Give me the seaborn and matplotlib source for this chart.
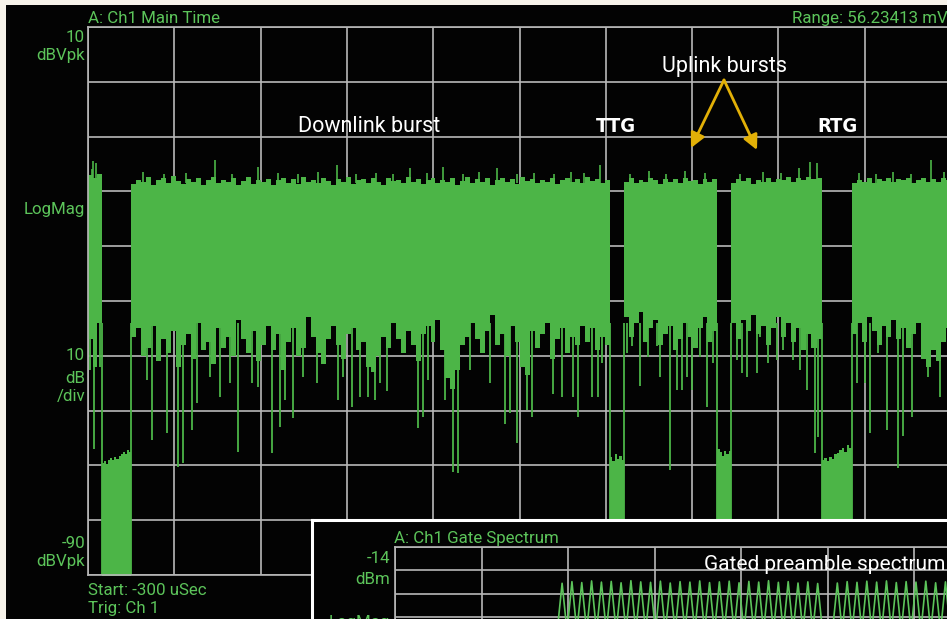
import matplotlib

matplotlib.use("Agg")
import matplotlib.pyplot as plt
import numpy as np
import pandas as pd
import seaborn as sns
from matplotlib import font_manager

W, H = 947, 619

CREAM = "#f7f3ea"
SCREEN = "#030303"
GREEN = "#4cb547"
TEXT_GREEN = "#5cc45a"
GRID = "#b8b8b8"
ARROW = "#e2b007"

# burst layout of the frame (usec)
BURST_START = [-300, 0, 3425, 4170, 5010]
BURST_END = [-205, 3330, 4075, 4800, 5700]

# top / bottom edge of each burst (dBVpk), read left to right
LEFT_TOP = [-17.0, -17.5, -16.8]
LEFT_BOT = [-47.0, -52.0, -44.0]
DL_TOP = [
    -18.6, -17.9, -18.2, -17.4, -18.8, -18.0, -17.6, -18.4, -17.2, -18.1, -18.7, -17.8, -18.3, -17.5, -18.9, -18.0,
    -17.3, -18.5, -17.9, -18.2, -17.6, -18.8, -18.1, -17.4, -18.6, -17.9, -18.3, -17.7, -18.9, -18.0, -17.5, -18.4,
    -17.8, -18.6, -17.3, -18.2, -17.9, -18.5, -17.6, -18.1, -18.8, -17.7, -18.3, -17.4, -18.6, -18.0, -17.8, -18.4,
    -17.5, -18.2, -18.9, -17.6, -18.1, -17.9, -18.5, -17.3, -18.3, -17.8, -18.7, -18.0, -17.5, -18.4, -17.9, -18.2,
    -17.6, -18.8, -18.1, -17.4, -18.5, -17.8, -18.3, -17.6, -18.9, -18.0, -17.5, -18.3, -17.8, -18.6, -17.4, -18.1,
    -17.7, -18.4, -17.9, -18.2, -17.5, -18.7, -18.0, -17.6, -18.3, -17.8, -18.5, -17.3, -18.1, -17.7, -18.4, -17.9,
]
DL_BOT = [
    -46.5, -45.0, -50.0, -48.5, -44.5, -51.0, -47.0, -49.5, -45.5, -52.0, -48.0, -46.0, -50.5, -44.0, -49.0, -47.5,
    -51.5, -45.0, -48.5, -46.5, -50.0, -43.5, -47.0, -49.5, -45.5, -51.0, -48.0, -44.5, -49.0, -46.0, -52.5, -47.5,
    -45.0, -50.0, -48.5, -43.0, -46.5, -49.5, -51.5, -47.0, -44.5, -48.0, -50.5, -46.0, -45.0, -49.0, -47.5, -52.0,
    -53.0, -50.0, -46.5, -48.5, -44.0, -47.0, -49.5, -45.5, -48.0, -51.0, -46.0, -44.5, -47.5, -43.5, -49.0, -54.0,
    -56.0, -52.5, -48.0, -46.5, -44.0, -47.0, -49.5, -45.5, -42.5, -48.0, -46.0, -50.0, -44.5, -47.5, -52.0, -53.5,
    -45.5, -48.5, -46.0, -44.0, -50.5, -47.0, -45.0, -49.5, -46.5, -48.0, -44.5, -47.5, -45.0, -49.0, -46.5, -48.0,
]
UL1_TOP = [-18.2, -17.6, -18.5, -17.9, -18.3, -17.5, -18.0, -18.6, -17.7, -18.2, -17.8, -18.4, -17.5, -18.1, -17.9,
           -18.6, -17.7, -18.3, -17.8]
UL1_BOT = [-43.0, -46.5, -44.0, -42.0, -47.5, -45.0, -43.5, -48.0, -46.0, -44.5, -49.0, -47.0, -44.0, -46.5, -48.5,
           -45.0, -43.0, -47.5, -45.5]
UL2_TOP = [-18.4, -17.8, -18.1, -17.5, -18.6, -17.9, -18.2, -17.6, -18.3, -17.7, -18.0, -17.4, -18.2, -17.6, -17.9,
           -17.3, -17.8, -17.5]
UL2_BOT = [-44.0, -47.0, -43.5, -45.5, -42.5, -46.0, -44.5, -48.0, -45.0, -43.0, -46.5, -44.0, -47.5, -45.0, -49.0,
           -46.0, -48.5, -47.0]
NX_TOP = [-18.5, -17.9, -18.2, -17.6, -18.4, -17.8, -18.1, -17.5, -18.3, -17.7, -18.0, -17.6, -18.4, -17.9, -17.5,
          -18.2, -17.8, -18.3, -17.6, -18.0]
NX_BOT = [-46.0, -44.0, -47.5, -43.0, -45.5, -48.0, -44.5, -46.5, -43.5, -47.0, -45.0, -48.5, -46.0, -44.0, -50.5,
          -52.0, -49.0, -51.0, -47.5, -45.0]

# noise floor seen in the gaps (TTG / RTG), top edge
GAP0_TOP = [-69.6, -69.2, -69.8, -69.0, -68.7, -69.1, -68.5, -68.8, -68.2, -68.0, -67.5, -67.9, -67.2, -67.6]
GAP1_TOP = [-68.5, -69.2, -68.0, -68.8, -68.3, -69.0]
GAP2_TOP = [-67.0, -67.6, -68.2, -67.4, -68.0, -67.3]
GAP3_TOP = [-69.0, -68.6, -69.2, -68.4, -68.8, -68.0, -67.8, -67.2, -66.8, -67.5, -66.3, -66.9]

# downward spikes (time usec, lowest level dB)
SPIKE_T = [-286, -258, -217,
           108, 143, 247, 328, 363, 421, 456, 548, 618, 687, 745, 838, 884, 977, 1035, 1070, 1127, 1197, 1290,
           1440, 1475, 1533, 1591, 1649, 1695, 1730, 1777, 1997, 2031, 2066, 2182, 2240, 2275, 2356, 2495, 2599,
           2634, 2680, 2750, 2785, 2935, 2993, 3074, 3109, 3202, 3248, 3271,
           3445, 3480, 3538, 3596, 3654, 3677, 3746, 3793, 3828, 3862, 3897, 3955, 4001, 4048,
           4210, 4245, 4280, 4349, 4372, 4430, 4488, 4534, 4604, 4650, 4697, 4754, 4777,
           5044, 5102, 5137, 5194, 5253, 5334, 5369, 5427, 5543, 5624]
SPIKE_DB = [-52.6, -67.0, -52.0,
            -54.4, -65.4, -64.1, -70.3, -69.6, -63.5, -58.6, -53.9, -57.5, -55.0, -67.6, -55.0, -55.7, -67.7,
            -63.0, -58.0, -61.4, -53.9, -55.0, -58.0, -53.9, -59.3, -57.5, -57.5, -58.0, -55.0, -56.4, -63.2,
            -61.1, -54.4, -58.0, -71.2, -71.4, -52.5, -55.0, -62.4, -60.5, -65.9, -59.9, -61.1, -57.0, -57.5,
            -57.5, -61.1, -57.5, -57.5, -51.4,
            -49.5, -48.3, -55.6, -50.2, -48.3, -53.8, -70.8, -56.2, -56.2, -53.8, -56.2, -50.2, -59.3, -51.4,
            -50.8, -53.2, -53.8, -53.2, -46.5, -51.4, -50.8, -48.9, -50.8, -52.6, -56.2, -67.8, -64.8,
            -55.0, -55.0, -64.1, -49.5, -63.5, -70.5, -64.6, -61.2, -53.9, -57.5]

# upward spikes above the burst tops
UP_T = [-275, -262, -245,
        84, 230, 380, 583, 700, 884, 1020, 1160, 1300, 1429, 1560, 1700, 1820, 1939, 2060, 2170, 2310, 2420,
        2542, 2680, 2800, 2940, 3060, 3150, 3260,
        3470, 3600, 3720, 3850, 3990,
        4230, 4390, 4520, 4640, 4720, 4770,
        5060, 5180, 5300, 5420, 5560, 5650]
UP_DB = [-16.0, -14.4, -14.8,
         -16.4, -16.8, -16.6, -14.3, -16.9, -15.5, -16.7, -16.9, -16.5, -15.2, -16.8, -16.6, -16.9, -15.8,
         -16.7, -15.5, -16.8, -16.5, -15.8, -16.9, -16.6, -16.8, -16.4, -16.7, -15.2,
         -16.9, -16.3, -16.8, -16.2, -16.6,
         -16.8, -16.4, -16.7, -15.8, -14.6, -14.9,
         -16.6, -16.8, -16.4, -16.9, -14.3, -16.5]

# gated preamble spectrum: every third subcarrier, DC null in the middle
SPEC_LEFT_K = list(range(-81, 0, 3))
SPEC_LEFT_DB = [-29.5, -28.8, -29.2, -28.5, -29.0, -28.7, -29.3, -28.4, -28.9, -29.1, -28.6, -29.4, -28.8, -29.0,
                -28.5, -29.2, -28.9, -28.6, -29.3, -28.7, -29.0, -28.4, -29.1, -28.8, -29.4, -28.9, -29.6]
SPEC_RIGHT_K = list(range(3, 43, 3))
SPEC_RIGHT_DB = [-29.4, -28.8, -29.1, -28.6, -29.0, -28.5, -29.2, -28.8, -29.0, -28.6, -29.3, -28.9, -29.1, -28.7]
SPEC_TROUGH = -50.0


def px(x, y):
    return x / W, 1 - y / H


def fill_steps(ax, start, end, lower, upper):
    edges = np.linspace(start, end, len(upper) + 1)
    lo = np.append(lower, lower[-1])
    hi = np.append(upper, upper[-1])
    ax.fill_between(edges, lo, hi, step="post", color=GREEN, lw=0, zorder=2)


def style_grid(ax, xticks, yticks):
    ax.set_xticks(xticks)
    ax.set_yticks(yticks)
    ax.set_xticklabels([])
    ax.set_yticklabels([])
    ax.tick_params(length=0)
    ax.grid(True, color=GRID, lw=1.2)
    ax.set_axisbelow(True)
    for s in ax.spines.values():
        s.set_color(GRID)
        s.set_linewidth(1.2)


def bold_narrow_font():
    fonts = font_manager.fontManager.ttflist
    names = {f.name for f in fonts}
    if "Liberation Sans Narrow" in names:
        return dict(family=["Liberation Sans Narrow", "DejaVu Sans"], fontsize=17)
    for f in fonts:
        if f.name == "DejaVu Sans" and "ondensed" in f.fname and "Bold" in f.fname:
            return dict(family=["DejaVu Sans"], fontstretch="condensed", fontsize=14.5)
    return dict(family=["Roboto", "DejaVu Sans"], fontsize=14)


sns.set_theme(style="dark", rc={"axes.facecolor": SCREEN})
plt.rcParams["font.family"] = ["Roboto", "DejaVu Sans"]

fig = plt.figure(figsize=(W / 100, H / 100), dpi=100)
fig.patch.set_facecolor(CREAM)

screen = fig.add_axes([6 / W, 0, 1 - 6 / W, 1 - 5 / H], zorder=0)
screen.set_facecolor(SCREEN)
screen.set_axis_off()
screen.add_patch(plt.Rectangle((0, 0), 1, 1, transform=screen.transAxes, color=SCREEN))

# main time trace
ax = fig.add_axes([88 / W, 44 / H, 863 / W, 548 / H], zorder=1)
ax.set_facecolor(SCREEN)
ax.set_xlim(-300, 5700)
ax.set_ylim(-90, 10)
style_grid(ax, np.linspace(-300, 5700, 11), np.arange(-90, 11, 10))

tops = [LEFT_TOP, DL_TOP, UL1_TOP, UL2_TOP, NX_TOP]
bots = [LEFT_BOT, DL_BOT, UL1_BOT, UL2_BOT, NX_BOT]
for s, e, top, bot in zip(BURST_START, BURST_END, tops, bots):
    fill_steps(ax, s, e, bot, top)

gaps = [GAP0_TOP, GAP1_TOP, GAP2_TOP, GAP3_TOP]
for e, s, top in zip(BURST_END[:-1], BURST_START[1:], gaps):
    fill_steps(ax, e, s, [-100] * len(top), top)

edges = BURST_END[:-1] + BURST_START[1:]
ax.vlines(edges, -100, -44, color=GREEN, lw=1.3, zorder=2)
ax.vlines(SPIKE_T, SPIKE_DB, -44, color=GREEN, lw=1.3, zorder=2)
ax.vlines(UP_T, -18.5, UP_DB, color=GREEN, lw=1.2, zorder=2)

# inset frame and gated spectrum
frame = fig.add_axes([312 / W, -0.05, 0.7, 1 - 520 / H + 0.05], zorder=2)
frame.set_facecolor(SCREEN)
frame.set_xticks([])
frame.set_yticks([])
for s in frame.spines.values():
    s.set_color("white")
    s.set_linewidth(2.2)

sp = fig.add_axes([395 / W, 1 - 781 / H, 865 / W, 234 / H], zorder=3)
sp.set_facecolor(SCREEN)
sp.set_xlim(-132, 132)
sp.set_ylim(-114, -14)
style_grid(sp, np.linspace(-132, 132, 11), np.arange(-114, -13, 10))

rows = []
for side, ks, dbs in (("L", SPEC_LEFT_K, SPEC_LEFT_DB), ("R", SPEC_RIGHT_K, SPEC_RIGHT_DB)):
    for k, db in zip(ks, dbs):
        rows += [(side, k - 1.5, SPEC_TROUGH), (side, k, db), (side, k + 1.5, SPEC_TROUGH)]
spec = pd.DataFrame(rows, columns=["side", "k", "level"])
for side, part in spec.groupby("side"):
    sns.lineplot(data=part, x="k", y="level", sort=False, estimator=None, color=TEXT_GREEN, lw=1.2, ax=sp)
sp.set_xlabel("")
sp.set_ylabel("")

# instrument labels
lab = dict(color=TEXT_GREEN, fontsize=12.2, va="baseline")
fig.text(*px(88, 23), "A: Ch1 Main Time", ha="left", **lab)
fig.text(*px(792, 23), "Range: 56.23413 mV", ha="left", **lab)
for text, y in (("10", 42), ("dBVpk", 60), ("LogMag", 214), ("10", 360), ("dB", 383), ("/div", 401),
                ("-90", 548), ("dBVpk", 566)):
    fig.text(*px(85, y), text, ha="right", **lab)
fig.text(*px(88, 595), "Start: -300 uSec", ha="left", **lab)
fig.text(*px(88, 613), "Trig: Ch 1", ha="left", **lab)
fig.text(*px(394, 543), "A: Ch1 Gate Spectrum", ha="left", zorder=5, **lab)
fig.text(*px(390, 563), "-14", ha="right", zorder=5, **lab)
fig.text(*px(390, 584), "dBm", ha="right", zorder=5, **lab)
fig.text(*px(390, 627), "LogMag", ha="right", zorder=5, **lab)

# annotations
note = dict(color="white", fontsize=15.5, va="baseline", zorder=6)
fig.text(*px(369, 132), "Downlink burst", ha="center", **note)
fig.text(*px(725, 72), "Uplink bursts", ha="center", **note)
fig.text(*px(945, 570), "Gated preamble spectrum", ha="right", **dict(note, fontsize=15.0))
bold = dict(color="white", va="baseline", fontweight="bold", zorder=6, **bold_narrow_font())
fig.text(*px(616, 132), "TTG", ha="center", **bold)
fig.text(*px(837, 132), "RTG", ha="center", **bold)

for tip in ((691, 148), (757, 150)):
    ax.annotate("", xy=(tip[0], H - tip[1]), xytext=(724, H - 80), xycoords="figure pixels",
                textcoords="figure pixels", annotation_clip=False,
                arrowprops=dict(arrowstyle="-|>", color=ARROW, lw=2.0, mutation_scale=22,
                                shrinkA=0, shrinkB=0))

fig.savefig("out.png", dpi=100, facecolor=CREAM)
